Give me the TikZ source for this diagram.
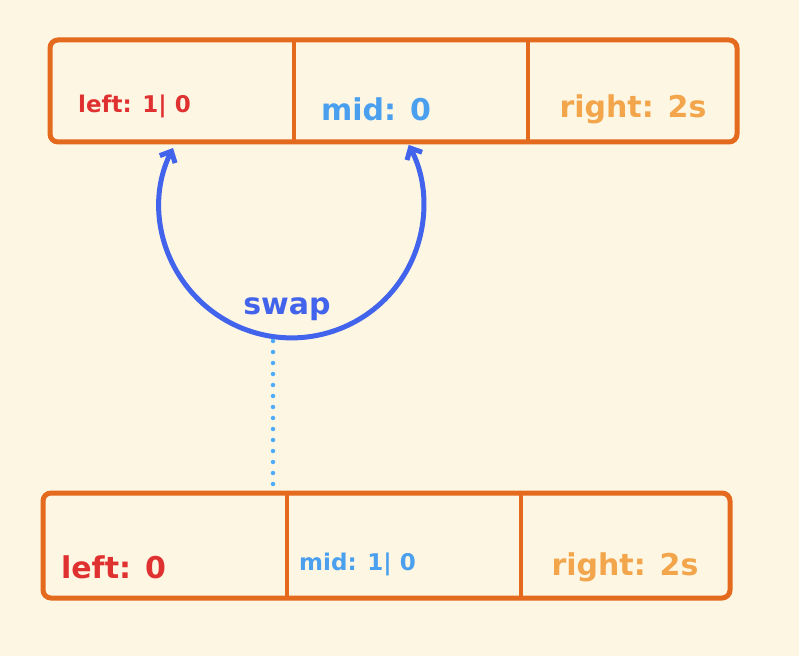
\documentclass[tikz,border=0pt]{standalone}
\usepackage{fontspec}
\setmainfont{DejaVu Sans}
\usetikzlibrary{arrows.meta}
\definecolor{bg}{HTML}{FDF6E3}
\definecolor{boxorange}{HTML}{E46A1E}
\definecolor{txtred}{HTML}{E03131}
\definecolor{txtblue}{HTML}{4A9FEF}
\definecolor{txtorange}{HTML}{F2A54A}
\definecolor{arcblue}{HTML}{4263EB}
\definecolor{dotblue}{HTML}{4DABF7}
\tikzset{
  rowbox/.style={draw=boxorange, line width=5pt, rounded corners=8pt, minimum width=687pt, inner sep=0pt},
  divider/.style={draw=boxorange, line width=4.5pt},
  bigtxt/.style={inner sep=0pt, font=\fontsize{30}{33}\selectfont\bfseries},
  smalltxt/.style={inner sep=0pt, font=\fontsize{23}{26}\selectfont\bfseries},
  swaparc/.style={draw=arcblue, line width=5pt, line cap=round, {Straight Barb[length=9pt,width=17pt]}-{Straight Barb[length=9pt,width=17pt]}},
  dotline/.style={draw=dotblue, line width=4.5pt, line cap=round, dash pattern=on 0pt off 11pt}
}
\begin{document}
\begin{tikzpicture}[x=1pt,y=1pt]
\fill[bg] (0,0) rectangle (799,656);
\useasboundingbox (0,0) rectangle (799,656);
% top row
\node[rowbox, minimum height=102pt] (top) at (393.5,565) {};
\coordinate (td1a) at (294,616); \coordinate (td1b) at (294,514);
\coordinate (td2a) at (528,616); \coordinate (td2b) at (528,514);
\draw[divider] (td1a) -- (td1b);
\draw[divider] (td2a) -- (td2b);
\node[smalltxt, text=txtred] (tl) at (134.5,550) {left: 1| 0};
\node[bigtxt, text=txtblue] (tm) at (376,547) {mid: 0};
\node[bigtxt, text=txtorange] (tr) at (633,547) {right: 2s};
% bottom row
\node[rowbox, minimum height=105pt] (bot) at (386.5,110.5) {};
\coordinate (bd1a) at (287,163); \coordinate (bd1b) at (287,58);
\coordinate (bd2a) at (521,163); \coordinate (bd2b) at (521,58);
\draw[divider] (bd1a) -- (bd1b);
\draw[divider] (bd2a) -- (bd2b);
\node[bigtxt, text=txtred] (bl) at (113.5,89) {left: 0};
\node[smalltxt, text=txtblue] (bm) at (357.5,92) {mid: 1| 0};
\node[bigtxt, text=txtorange] (br) at (625,89) {right: 2s};
% swap arc
\coordinate (arcL) at (173,508);
\draw[swaparc] (arcL) arc[start angle=154, end angle=387.5, radius=132];
\node[bigtxt, text=arcblue] (swap) at (287,347) {swap};
% dotted link
\coordinate (dtop) at (273,315);
\coordinate (dbot) at (273,168);
\draw[dotline] (dtop) -- (dbot);
\end{tikzpicture}
\end{document}
